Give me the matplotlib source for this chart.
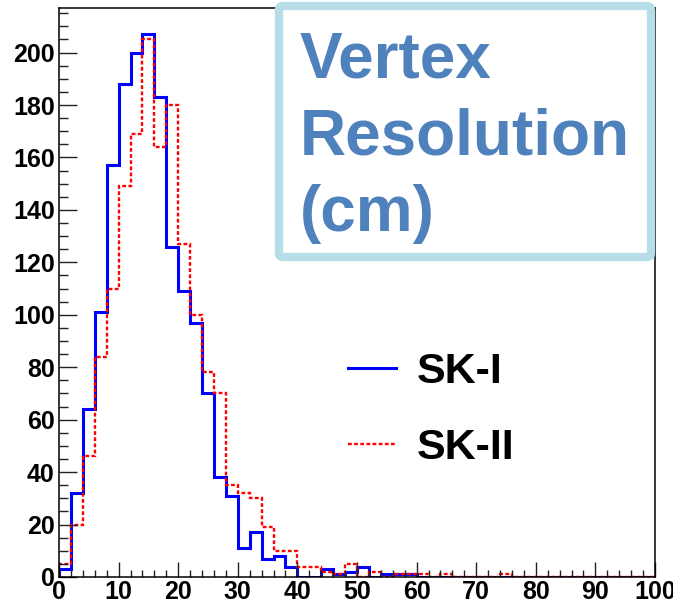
import matplotlib.pyplot as plt
from matplotlib.patches import FancyBboxPatch
from matplotlib.ticker import MultipleLocator
import numpy as np

# histogram bins, 2 cm wide, 0..100
edges = np.arange(0, 102, 2)

# SK-I counts per bin
sk1 = [3, 32, 64, 101, 157, 188, 200, 207, 183, 126,
       109, 97, 70, 38, 31, 11, 17, 7, 8, 4,
       0, 0, 3, 1, 2, 4, 0, 1, 1, 1,
       0, 0, 0, 0, 0, 0, 0, 0, 0, 0,
       0, 0, 0, 0, 0, 0, 0, 0, 0, 0]

# SK-II counts per bin
sk2 = [5, 20, 46, 84, 110, 149, 169, 205, 164, 180,
       127, 100, 78, 70, 35, 32, 30, 19, 10, 10,
       4, 4, 2, 1, 5, 0, 2, 0, 1, 1,
       1, 0, 1, 0, 0, 0, 0, 1, 0, 0,
       0, 0, 0, 0, 0, 0, 0, 0, 0, 0]

labels = ['SK-I', 'SK-II']
title_lines = ['Vertex', 'Resolution', '(cm)']

plt.rcParams['font.family'] = ['Liberation Sans', 'DejaVu Sans']
plt.rcParams['font.weight'] = 'bold'

W, H = 673, 603
fig = plt.figure(figsize=(W / 100, H / 100), dpi=100)
ax = fig.add_axes([59 / W, 1 - 577 / H, (655 - 59) / W, (577 - 8) / H])

ax.stairs(sk1, edges, color='#0000ff', lw=2.2, label=labels[0])
ax.stairs(sk2, edges, color='#ff0000', lw=1.7, linestyle=(0, (1.6, 1.0)),
          label=labels[1])

ax.set_xlim(0, 100)
ax.set_ylim(0, 217)
ax.xaxis.set_major_locator(MultipleLocator(10))
ax.xaxis.set_minor_locator(MultipleLocator(2))
ax.yaxis.set_major_locator(MultipleLocator(20))
ax.yaxis.set_minor_locator(MultipleLocator(5))
ax.tick_params(axis='x', which='major', direction='in', length=11, width=1,
               pad=2, labelsize=18, color='#222222')
ax.tick_params(axis='x', which='minor', direction='in', length=5, width=1,
               color='#222222')
ax.tick_params(axis='y', which='major', direction='in', length=13, width=1,
               pad=3, labelsize=18, color='#222222')
ax.tick_params(axis='y', which='minor', direction='in', length=6.5, width=1,
               color='#222222')
for lab in ax.get_xticklabels() + ax.get_yticklabels():
    lab.set_fontweight('bold')
for sp in ax.spines.values():
    sp.set_linewidth(1.1)

leg = ax.legend(loc='center left', bbox_to_anchor=(348 / W, 1 - 410 / H),
                bbox_transform=fig.transFigure, frameon=False, fontsize=31,
                handlelength=1.12, handletextpad=0.48, labelspacing=0.82,
                borderpad=0, borderaxespad=0)
for t in leg.get_texts():
    t.set_fontweight('bold')

# title box in the upper right corner
box = FancyBboxPatch((279 / W, 1 - 257 / H), (651 - 279) / W, (257 - 6) / H,
                     boxstyle='round,pad=0,rounding_size=0.006',
                     transform=fig.transFigure, facecolor='white',
                     edgecolor='#b7dde8', lw=6, zorder=5)
fig.patches.append(box)
for i, line in enumerate(title_lines):
    fig.text(300 / W, 1 - (78 + 76.5 * i) / H, line, fontsize=46,
             fontweight='bold', color='#4f81bd', va='baseline', ha='left',
             zorder=6)

fig.savefig('out.png', dpi=100)
